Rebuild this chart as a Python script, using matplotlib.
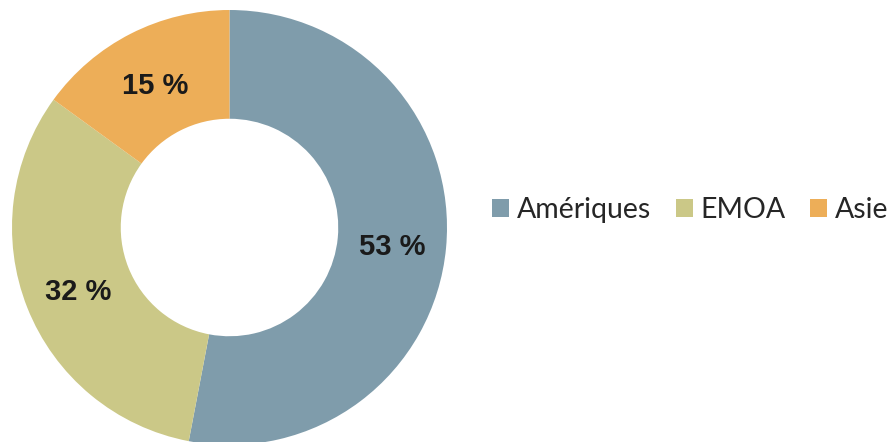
import matplotlib.pyplot as plt
import matplotlib.transforms as mtransforms
from matplotlib.patches import Patch

# data
regions = ["Amériques", "EMOA", "Asie"]
shares = [53, 32, 15]
colors = ["#7f9cab", "#cbc887", "#edae58"]

fig = plt.figure(figsize=(8.92, 4.42), dpi=100)

# donut: centre ~ (229.5, 227.5) px, radius ~ 217.5 px
ax = fig.add_axes([12 / 892, -3 / 442, 435 / 892, 435 / 442])
wedges, texts, autotexts = ax.pie(
    shares, colors=colors, startangle=90, counterclock=False,
    radius=1, wedgeprops=dict(width=0.5, linewidth=0),
    autopct=lambda p: f"{p:.0f} %", pctdistance=0.75,
)
shift = mtransforms.offset_copy(ax.transData, fig=fig, x=0, y=-4, units="dots")
for t in autotexts:
    t.set_fontsize(21)
    t.set_fontweight("bold")
    t.set_fontfamily("Liberation Sans")
    t.set_color("#1a1a1a")
    t.set_transform(shift)
ax.set_xlim(-1, 1)
ax.set_ylim(-1, 1)
ax.set_aspect("equal")
ax.axis("off")

handles = [Patch(facecolor=c, edgecolor="none") for c in colors]
fig.legend(handles, regions, loc="center left", bbox_to_anchor=(492 / 892, 1 - 210 / 442),
           ncol=3, frameon=False, handlelength=0.6, handleheight=0.6,
           handletextpad=0.28, columnspacing=0.85, borderpad=0, borderaxespad=0,
           prop=dict(family="Lato", weight="normal", size=20.5), labelcolor="#262626")

fig.savefig("out.png", dpi=100)
